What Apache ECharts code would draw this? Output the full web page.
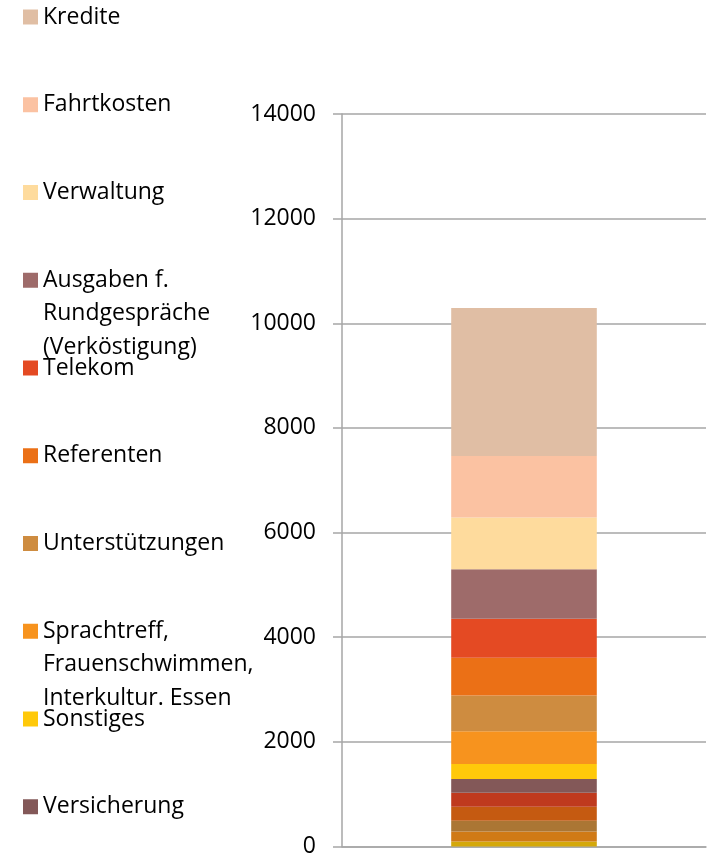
<!DOCTYPE html>
<html>
<head>
<meta charset="utf-8">
<title>Ausgaben</title>
<script src="https://cdn.jsdelivr.net/npm/echarts@6/dist/echarts.min.js"></script>
<style>
    html, body { margin: 0; padding: 0; background: #ffffff; }
    #chart { width: 710px; height: 858px; }
</style>
</head>
<body>
<div id="chart"></div>
<script>
// Series, bottom of the stack first
const seriesNames = [
    'Posten 15', 'Posten 14', 'Posten 13', 'Posten 12', 'Posten 11',
    'Versicherung',
    'Sonstiges',
    'Sprachtreff,\nFrauenschwimmen,\nInterkultur. Essen',
    'Unterstützungen',
    'Referenten',
    'Telekom',
    'Ausgaben f.\nRundgespräche\n(Verköstigung)',
    'Verwaltung',
    'Fahrtkosten',
    'Kredite'
];
const seriesValues = [95, 190, 209, 266, 265, 266, 285, 627, 683, 722, 746, 944, 988, 1177, 2830];
const seriesColors = [
    '#D4A80A', '#D07A16', '#AB7634', '#C55A11', '#BF3A1E',
    '#835858', '#FFC90A', '#F7931E', '#CE8C40', '#EB7016',
    '#E44A23', '#9E6B6A', '#FEDB9D', '#FBC2A2', '#E0BEA4'
];
// Only these are shown in the legend (top to bottom)
const legendNames = seriesNames.slice(5).reverse();
const categories = [''];

const FONT = '"Open Sans", sans-serif';
const LINE_H = 33.5;
const GRID_COLOR = '#a6a6a6';

function buildLegends() {
    return legendNames.map(function (name, i) {
        const lines = name.split('\n').length;
        const yc = 17 + i * 87.75;
        // multi-line names: blank lines on top keep the first line beside the marker
        const blockH = (2 * lines - 1) * LINE_H;
        return {
            data: [name],
            orient: 'vertical',
            left: 23,
            top: yc - blockH / 2,
            padding: 0,
            itemWidth: 15,
            itemHeight: 15,
            itemGap: 0,
            icon: 'rect',
            selectedMode: false,
            formatter: function (n) {
                return '\n'.repeat(lines - 1) + n;
            },
            textStyle: {
                fontFamily: FONT,
                fontSize: 23,
                color: '#000000',
                lineHeight: LINE_H
            }
        };
    });
}

function buildSeries() {
    return seriesNames.map(function (name, i) {
        return {
            name: name,
            type: 'bar',
            stack: 'total',
            barWidth: '40%',
            itemStyle: { color: seriesColors[i] },
            emphasis: { disabled: true },
            data: [seriesValues[i]]
        };
    });
}

const chart = echarts.init(document.getElementById('chart'), null, { renderer: 'canvas' });
chart.setOption({
    animation: false,
    legend: buildLegends(),
    grid: { left: 342, right: 4, top: 114, bottom: 7, containLabel: false },
    xAxis: {
        type: 'category',
        data: categories,
        axisLine: { show: true, lineStyle: { color: GRID_COLOR, width: 1.5 } },
        axisTick: { show: false },
        axisLabel: { show: false }
    },
    yAxis: {
        type: 'value',
        min: 0,
        max: 14000,
        interval: 2000,
        axisLine: { show: true, lineStyle: { color: GRID_COLOR, width: 1.5 } },
        axisTick: { show: true, length: 9, lineStyle: { color: GRID_COLOR, width: 1.5 } },
        splitLine: { show: true, lineStyle: { color: GRID_COLOR, width: 1.5 } },
        axisLabel: {
            fontFamily: FONT,
            fontSize: 23,
            color: '#000000',
            margin: 26,
            formatter: function (v) { return String(v); }
        }
    },
    series: buildSeries()
});
</script>
</body>
</html>
